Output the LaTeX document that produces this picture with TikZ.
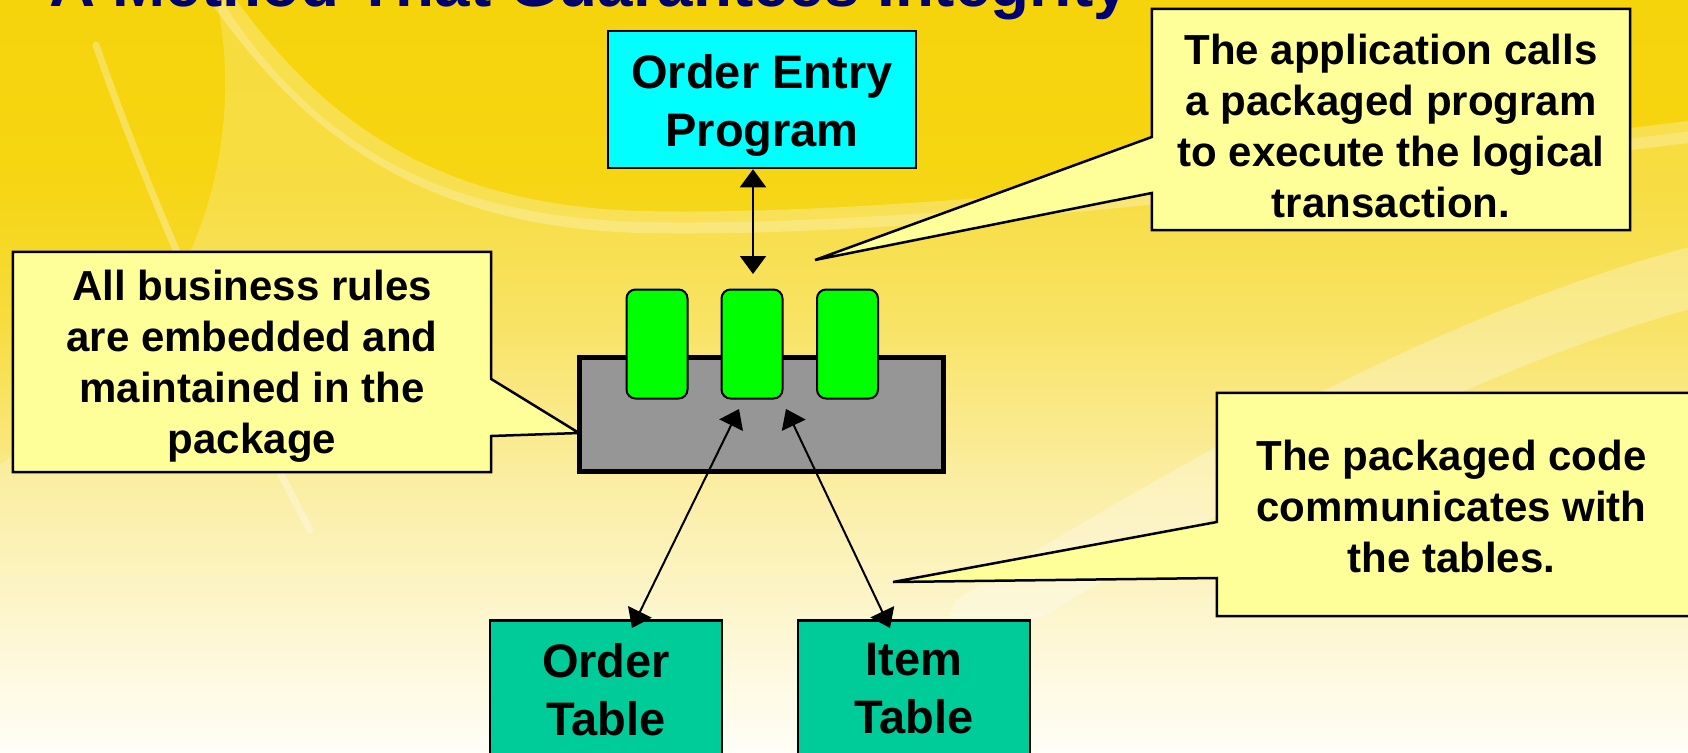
\documentclass[tikz,border=0pt]{standalone}
\usepackage{fontspec}
\setmainfont{Liberation Sans}
\usetikzlibrary{arrows.meta,calc}
\pgfdeclarelayer{bg}
\pgfdeclarelayer{mid}
\pgfsetlayers{bg,mid,main}

% slide background tones, top to bottom
\definecolor{skyTop}{RGB}{246,212,12}
\definecolor{skyA}{RGB}{246,213,18}
\definecolor{skyB}{RGB}{247,220,60}
\definecolor{skyC}{RGB}{250,234,140}
\definecolor{skyD}{RGB}{253,245,200}
\definecolor{skyBot}{RGB}{255,254,246}
\pgfdeclareverticalshading{slidebg}{100bp}{color(0bp)=(skyBot); color(25bp)=(skyBot);
  color(33bp)=(skyD); color(43bp)=(skyC); color(54bp)=(skyB); color(63bp)=(skyA);
  color(75bp)=(skyTop); color(100bp)=(skyTop)}

\definecolor{titlenavy}{RGB}{0,0,110}
\definecolor{noteyellow}{RGB}{255,255,153}
\definecolor{progcyan}{RGB}{0,255,255}
\definecolor{tablegreen}{RGB}{0,204,153}
\definecolor{pkggray}{RGB}{150,150,150}
\definecolor{tabgreen}{RGB}{0,255,0}

\begin{document}
\begin{tikzpicture}[x=1pt,y=-1pt,
  conn/.style={line width=2pt,
    {Triangle[length=18pt,width=26pt]}-{Triangle[length=18pt,width=26pt]}},
  notefill/.style={fill=noteyellow, draw=black, line width=2.5pt, line join=miter},
  notebox/.style={inner sep=0pt},
  notetext/.style={align=center, inner sep=0pt,
    font=\bfseries\fontsize{42}{51}\selectfont},
  boxtext/.style={align=center, inner sep=0pt,
    font=\bfseries\fontsize{47}{58}\selectfont},
  progbox/.style={draw=black, line width=2.5pt, fill=progcyan,
    minimum width=308pt, minimum height=137pt, inner sep=0pt},
  tablebox/.style={draw=black, line width=2.5pt, fill=tablegreen,
    minimum width=232pt, minimum height=200pt, inner sep=0pt, anchor=north},
  pkgbox/.style={draw=black, line width=5pt, fill=pkggray,
    minimum width=364pt, minimum height=114pt, inner sep=0pt},
  tabbox/.style={draw=black, line width=2pt, fill=tabgreen, rounded corners=9pt,
    minimum width=61pt, minimum height=109pt, inner sep=0pt},
  swoosh/.style={white, line cap=round}]

\path[use as bounding box] (0,0) rectangle (1688,752);

% ---- background ----
\begin{pgfonlayer}{bg}
  \shade[shading=slidebg] (0,0) rectangle (1688,752);
  % paler field under the large arc
  \fill[white, opacity=.20]
    (215,-10) .. controls (290,110) and (400,215) .. (640,222)
    .. controls (900,228) and (1300,180) .. (1700,130)
    -- (1700,760) -- (-10,760) -- (-10,470)
    .. controls (150,380) and (260,200) .. (215,-10) -- cycle;
  % bright rim of the arc
  \draw[swoosh, opacity=.26, line width=22pt]
    (205,-25) .. controls (290,100) and (400,215) .. (640,222)
    .. controls (900,228) and (1300,180) .. (1720,128);
  % thin streak on the left
  \draw[swoosh, opacity=.30, line width=7pt]
    (96,45) .. controls (150,200) and (230,380) .. (310,530);
  % soft band on the right
  \draw[swoosh, opacity=.28, line width=60pt]
    (980,620) .. controls (1240,460) and (1480,330) .. (1720,270);
\end{pgfonlayer}

% ---- title ----
\node[anchor=base west, inner sep=0pt, text=titlenavy,
  font=\bfseries\fontsize{63.7}{70}\selectfont] (title) at (49,7)
  {A Method That Guarantees Integrity};

% ---- program, package and tables ----
\node[progbox] (prog) at (762,99.5) {};
\node[boxtext] (progLbl) at ([yshift=-6pt]prog.center) {Order Entry\\Program};

\node[pkgbox] (pkg) at (761.5,414.5) {};
\node[tabbox] (tabA) at (657,344) {};
\node[tabbox] (tabB) at (752,344) {};
\node[tabbox] (tabC) at (847.5,344) {};

\node[tablebox] (ordT) at (606,619) {};
\node[boxtext, anchor=north] (ordLbl) at ([yshift=-24pt]ordT.north) {Order\\Table};
\node[tablebox] (itemT) at (914,619) {};
\node[boxtext, anchor=north] (itemLbl) at ([yshift=-24pt]itemT.north) {Item\\Table};

% ---- connectors ----
\coordinate (callIn) at (753,274);
\coordinate (pkgL) at (739,409);
\coordinate (pkgR) at (786,409);
\coordinate (ordIn) at (632,628);
\coordinate (itemIn) at (890,628);
\draw[conn] (prog.south -| callIn) -- (callIn);
\draw[conn] (pkgL) -- (ordIn);
\draw[conn] (pkgR) -- (itemIn);

% ---- callouts ----
\coordinate (tipA) at (579,433);
\coordinate (tipB) at (815,260);
\coordinate (tipC) at (893,582);

\node[notebox, minimum width=478pt, minimum height=220pt] (noteA) at (252,362) {};
\node[notebox, minimum width=478pt, minimum height=221pt] (noteB) at (1391,119.5) {};
\node[notebox, minimum width=473pt, minimum height=223pt] (noteC) at (1453.5,504.5) {};

\begin{pgfonlayer}{mid}
  \draw[notefill] (noteA.north west) -- (noteA.north east) -- (noteA.east |- 0,379)
    -- (tipA) -- (noteA.east |- 0,436) -- (noteA.south east) -- (noteA.south west) -- cycle;
  \draw[notefill] (noteB.north west) -- (noteB.north east) -- (noteB.south east)
    -- (noteB.south west) -- (noteB.west |- 0,193) -- (tipB) -- (noteB.west |- 0,137) -- cycle;
  \draw[notefill] (noteC.north west) -- (noteC.north east) -- (noteC.south east)
    -- (noteC.south west) -- (noteC.west |- 0,578) -- (tipC) -- (noteC.west |- 0,522) -- cycle;
\end{pgfonlayer}

\node[notetext] (noteAtxt) at ([yshift=-4pt]noteA.center)
  {All business rules\\are embedded and\\maintained in the\\package};
\node[notetext] (noteBtxt) at ([yshift=-6pt]noteB.center)
  {The application calls\\a packaged program\\to execute the logical\\transaction.};
\node[notetext] (noteCtxt) at ([xshift=-2pt,yshift=-2pt]noteC.center)
  {The packaged code\\communicates with\\the tables.};
\end{tikzpicture}
\end{document}
